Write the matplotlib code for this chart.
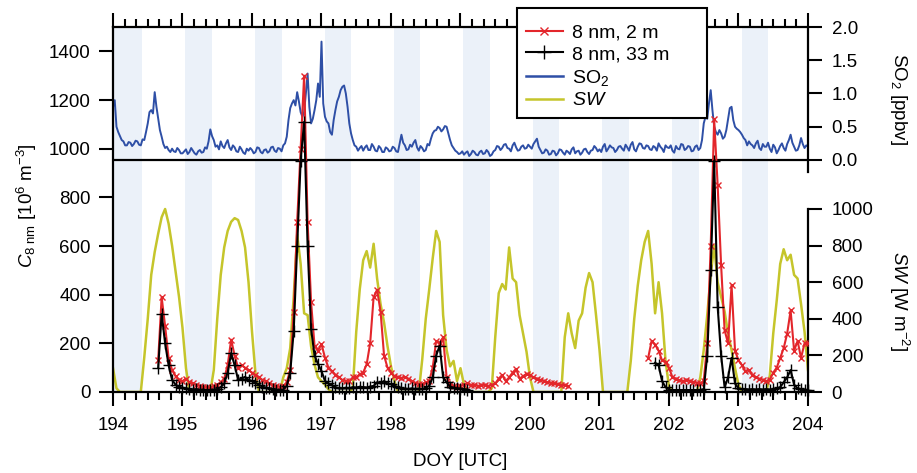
import numpy as np
import matplotlib
matplotlib.use('Agg')
import matplotlib.pyplot as plt
from matplotlib.lines import Line2D
from matplotlib.patches import Rectangle
from matplotlib.ticker import MultipleLocator, FormatStrFormatter

plt.rcParams['font.family'] = 'Liberation Sans'
plt.rcParams['mathtext.fontset'] = 'custom'
plt.rcParams['mathtext.rm'] = 'Liberation Sans'
plt.rcParams['mathtext.it'] = 'Liberation Sans:italic'
plt.rcParams['mathtext.bf'] = 'Liberation Sans:bold'

nan = np.nan

# time axes, day of year (UTC)
doy = np.round(np.arange(194, 204.001, 0.05), 2)        # SW and particle data
doy_so2 = np.round(np.arange(194, 204.0001, 0.025), 3)  # SO2

# night time (shaded) intervals
night_start = [194.0, 195.04, 196.04, 197.05, 198.04, 199.04, 200.04, 201.04, 202.04, 203.05]
night_end = [194.42, 195.42, 196.43, 197.42, 198.42, 199.42, 200.42, 201.42, 202.43, 203.43]

# SO2 [ppbv], one row per day
so2 = [
    0.80, 0.90, 0.50, 0.42, 0.36, 0.30, 0.28, 0.22, 0.22, 0.27, 0.26, 0.21, 0.24, 0.29, 0.28, 0.23, 0.22, 0.31, 0.30, 0.42,
    0.55, 0.72, 0.75, 0.70, 1.02, 0.80, 0.62, 0.45, 0.35, 0.24, 0.18, 0.20, 0.15, 0.12, 0.17, 0.13, 0.12, 0.18, 0.15, 0.10,
    0.10, 0.13, 0.16, 0.09, 0.12, 0.18, 0.14, 0.10, 0.08, 0.13, 0.15, 0.11, 0.12, 0.19, 0.17, 0.28, 0.46, 0.36, 0.30, 0.20,
    0.22, 0.16, 0.28, 0.21, 0.18, 0.25, 0.30, 0.19, 0.15, 0.22, 0.19, 0.13, 0.12, 0.20, 0.16, 0.11, 0.09, 0.17, 0.14, 0.18,
    0.15, 0.10, 0.12, 0.19, 0.18, 0.12, 0.10, 0.15, 0.16, 0.11, 0.13, 0.19, 0.20, 0.14, 0.12, 0.18, 0.17, 0.13, 0.22, 0.25,
    0.35, 0.60, 0.78, 0.85, 0.90, 0.82, 1.02, 0.88, 0.72, 0.65, 0.72, 1.00, 1.30, 0.80, 0.55, 0.62, 0.75, 0.90, 1.15, 0.95,
    1.78, 0.85, 0.65, 0.58, 0.55, 0.42, 0.38, 0.60, 0.75, 0.88, 0.95, 1.05, 1.10, 1.12, 1.00, 0.80, 0.55, 0.40, 0.30, 0.22,
    0.20, 0.14, 0.18, 0.21, 0.14, 0.19, 0.22, 0.15, 0.15, 0.24, 0.20, 0.14, 0.13, 0.21, 0.18, 0.12, 0.12, 0.19, 0.17, 0.13,
    0.14, 0.20, 0.18, 0.13, 0.12, 0.25, 0.38, 0.26, 0.22, 0.15, 0.16, 0.23, 0.20, 0.26, 0.30, 0.19, 0.14, 0.21, 0.18, 0.13,
    0.15, 0.24, 0.22, 0.32, 0.40, 0.44, 0.45, 0.50, 0.48, 0.43, 0.46, 0.51, 0.50, 0.40, 0.30, 0.22, 0.18, 0.14, 0.12, 0.09,
    0.10, 0.13, 0.08, 0.11, 0.13, 0.06, 0.09, 0.14, 0.12, 0.08, 0.07, 0.12, 0.14, 0.09, 0.10, 0.15, 0.12, 0.06, 0.08, 0.13,
    0.15, 0.21, 0.20, 0.15, 0.18, 0.23, 0.24, 0.18, 0.17, 0.13, 0.22, 0.26, 0.19, 0.14, 0.15, 0.20, 0.22, 0.17, 0.18, 0.23,
    0.20, 0.17, 0.24, 0.28, 0.32, 0.20, 0.15, 0.10, 0.11, 0.16, 0.14, 0.08, 0.09, 0.14, 0.13, 0.07, 0.10, 0.16, 0.15, 0.11,
    0.08, 0.14, 0.12, 0.09, 0.16, 0.19, 0.10, 0.13, 0.14, 0.08, 0.11, 0.16, 0.17, 0.12, 0.09, 0.14, 0.15, 0.21, 0.18, 0.13,
    0.16, 0.12, 0.20, 0.24, 0.13, 0.17, 0.22, 0.19, 0.18, 0.12, 0.15, 0.20, 0.21, 0.17, 0.14, 0.23, 0.19, 0.14, 0.23, 0.27,
    0.16, 0.13, 0.20, 0.25, 0.24, 0.18, 0.17, 0.22, 0.21, 0.16, 0.15, 0.21, 0.19, 0.14, 0.25, 0.20, 0.17, 0.12, 0.22, 0.19,
    0.18, 0.22, 0.14, 0.11, 0.21, 0.17, 0.16, 0.24, 0.23, 0.15, 0.17, 0.21, 0.20, 0.13, 0.14, 0.20, 0.22, 0.15, 0.18, 0.30,
    0.55, 0.65, 0.62, 0.85, 1.05, 0.75, 0.50, 0.42, 0.38, 0.45, 0.40, 0.32, 0.35, 0.45, 0.62, 0.78, 0.80, 0.60, 0.50, 0.47,
    0.45, 0.42, 0.38, 0.33, 0.30, 0.22, 0.28, 0.24, 0.22, 0.18, 0.25, 0.29, 0.18, 0.15, 0.24, 0.20, 0.20, 0.26, 0.17, 0.12,
    0.23, 0.19, 0.10, 0.15, 0.21, 0.25, 0.18, 0.14, 0.24, 0.30, 0.38, 0.26, 0.20, 0.14, 0.15, 0.22, 0.33, 0.24, 0.18, 0.22,
    0.20,
]

# shortwave radiation SW [W m-2]
sw = [
    130, 20, 0, 0, 0, 0, 0, 0, 0, 190, 400, 640, 765, 865, 955, 1000, 920, 800, 660, 520,
    350, 130, 0, 0, 0, 0, 0, 0, 0, 120, 400, 640, 790, 880, 930, 950, 940, 880, 790, 600,
    330, 100, 0, 0, 0, 0, 0, 0, 0, 80, 130, 240, 520, 860, 700, 430, 420, 250, 150, 80,
    60, 40, 15, 0, 0, 0, 0, 0, 0, 20, 330, 560, 720, 770, 680, 810, 620, 480, 380, 250,
    140, 60, 0, 0, 0, 0, 0, 0, 0, 180, 400, 560, 730, 880, 820, 420, 230, 140, 170, 60,
    130, 40, 0, 0, 0, 0, 0, 0, 0, 20, 300, 540, 590, 560, 790, 620, 600, 420, 320, 220,
    80, 0, 0, 0, 0, 0, 0, 0, 0, 0, 300, 430, 320, 240, 390, 430, 570, 650, 600, 420,
    230, 0, 0, 0, 0, 0, 0, 0, 0, 170, 400, 580, 720, 820, 880, 700, 430, 600, 430, 170,
    30, 0, 0, 0, 0, 0, 0, 0, 0, 80, 230, 420, 640, 800, 600, 520, 440, 320, 230, 130,
    40, 0, 0, 0, 0, 0, 0, 0, 0, 90, 320, 500, 700, 780, 720, 750, 640, 620, 480, 330,
    120,
]

# C 8 nm at 2 m [10^6 m-3]
c_2m = [
    nan, nan, nan, nan, nan, nan, nan, nan, nan, nan, nan, nan, nan, 130, 390, 270, 140, 90, 65, 50,
    45, 55, 40, 35, 30, 25, 22, 20, 18, 25, 30, 40, 55, 110, 215, 150, 100, 110, 100, 90,
    80, 70, 60, 50, 45, 35, 30, 25, 20, 25, 40, 90, 330, 700, 1000, 1300, 700, 370, 190, 170,
    197, 141, 100, 86, 70, 60, 50, 45, 45, 60, 60, 73, 80, 114, 200, 390, 420, 330, 150, 100,
    80, 65, 60, 58, 62, 55, 45, 38, 33, 33, 40, 45, 100, 210, 200, 225, 60, 33, 25, 19,
    25, 30, 35, 28, 30, 25, 28, 30, 25, 30, 35, 55, 70, 45, 60, 80, 95, 55, 65, 75,
    70, 60, 55, 50, 45, 40, 38, 35, 32, 30, 28, 25, nan, nan, nan, nan, nan, nan, nan, nan,
    nan, nan, nan, nan, nan, nan, nan, nan, nan, nan, nan, nan, nan, nan, 140, 210, 195, 170, 130, 125,
    100, 60, 55, 48, 45, 50, 45, 42, 38, 35, 45, 200, 600, 1120, 850, 520, 254, 200, 440, 170,
    130, 110, 85, 90, 70, 60, 55, 50, 45, 50, 80, 100, 140, 180, 240, 335, 170, 210, 140, 200,
    200,
]

# C 8 nm at 33 m [10^6 m-3]
c_33m = [
    nan, nan, nan, nan, nan, nan, nan, nan, nan, nan, nan, nan, nan, 100, 320, 200, 110, 50, 30, 22,
    18, 15, 12, 10, 12, 9, 10, 8, 9, 10, 12, 20, 35, 80, 160, 110, 50, 55, 62, 50,
    45, 38, 30, 22, 18, 15, 12, 10, 9, 10, 25, 80, 250, 600, 950, 1110, 600, 260, 150, 115,
    86, 45, 35, 28, 20, 15, 15, 18, 15, 20, 18, 22, 20, 18, 22, 25, 40, 35, 45, 35,
    32, 25, 20, 15, 14, 12, 15, 12, 14, 12, 18, 25, 60, 150, 190, 60, 40, 22, 18, 15,
    14, 12, 10, nan, nan, nan, nan, nan, nan, nan, nan, nan, nan, nan, nan, nan, nan, nan, nan, nan,
    nan, nan, nan, nan, nan, nan, nan, nan, nan, nan, nan, nan, nan, nan, nan, nan, nan, nan, nan, nan,
    nan, nan, nan, nan, nan, nan, nan, nan, nan, nan, nan, nan, nan, nan, nan, nan, 120, 110, 45, 20,
    10, 8, 8, 8, 8, 8, 8, 8, 8, 8, 12, 150, 500, 950, 350, 150, 20, 60, 140, 35,
    15, 12, 12, 10, 12, 10, 12, 10, 12, 10, 12, 15, 20, 40, 60, 90, 30, 15, 12, 10,
    8,
]

red = '#e3262b'
blue = '#2e4fa6'
olive = '#c5c52b'
shade = '#ebf1f9'
fs = 13.5

fig = plt.figure(figsize=(9.17, 4.73), dpi=100)
ax = fig.add_axes([113 / 917, 1 - 392 / 473, 695 / 917, 365 / 473])
ax3 = ax.twinx()   # SW, lower right
ax2 = ax.twinx()   # SO2, upper right
ax3.set_zorder(1)
ax2.set_zorder(2)
ax.set_zorder(3)
ax.patch.set_visible(False)

for s, e in zip(night_start, night_end):
    ax3.axvspan(s, e, color=shade, lw=0, zorder=0)

ax3.plot(doy, sw, color=olive, lw=1.8)
ax2.plot(doy_so2, so2, color=blue, lw=1.4)
ax2.axhline(0, color='k', lw=1.6)
ax.plot(doy, c_2m, color=red, lw=1.5, marker='x', ms=5, mew=1.0)
ax.plot(doy, c_33m, color='k', lw=1.5, marker='+', ms=9, mew=1.0, clip_on=False)

ax.set_xlim(194, 204)
ax.set_ylim(0, 1500)
ax2.set_ylim(-3.489, 2.0)
ax3.set_ylim(0, 1994.5)

ax.spines['right'].set_visible(False)
for a in (ax2, ax3):
    for s in ('left', 'top', 'bottom'):
        a.spines[s].set_visible(False)
ax2.spines['right'].set_bounds(-0.18, 2.0)
ax3.spines['right'].set_bounds(0, 1000)
for a in (ax, ax2, ax3):
    for sp in a.spines.values():
        sp.set_linewidth(1.6)

ax.xaxis.set_major_locator(MultipleLocator(1))
ax.xaxis.set_minor_locator(MultipleLocator(1 / 6))
ax.tick_params(axis='x', which='both', top=True, direction='out', width=1.5, labelsize=fs, pad=8)
ax.tick_params(axis='x', which='major', length=10)
ax.tick_params(axis='x', which='minor', length=5.5)
ax.set_yticks(range(0, 1401, 200))
ax.tick_params(axis='y', direction='out', length=10, width=1.5, labelsize=fs, pad=6)
ax2.set_yticks([0, 0.5, 1.0, 1.5, 2.0])
ax2.yaxis.set_major_formatter(FormatStrFormatter('%.1f'))
ax3.set_yticks(range(0, 1001, 200))
for a in (ax2, ax3):
    a.tick_params(axis='y', direction='out', length=10, width=1.5, labelsize=fs, pad=7)

fig.text(27 / 917, 1 - 206 / 473, r'$C_{\rm 8\ nm}$ [10$^{6}$ m$^{-3}$]', rotation=90,
         ha='center', va='center', fontsize=fs)
fig.text(899 / 917, 1 - 99 / 473, 'SO$_2$ [ppbv]', rotation=270,
         ha='center', va='center', fontsize=fs)
fig.text(899 / 917, 1 - 301 / 473, r'$SW$ [W m$^{-2}$]', rotation=270,
         ha='center', va='center', fontsize=fs)
fig.text(460.5 / 917, 1 - 461 / 473, 'DOY [UTC]', ha='center', va='center', fontsize=fs)

# legend box drawn separately (wider than the entries, as in the original)
fig.patches.append(Rectangle((517 / 917, 1 - 118 / 473), 190 / 917, 110 / 473,
                             transform=fig.transFigure, facecolor='white',
                             edgecolor='k', lw=1.5, zorder=4.5))
handles = [
    Line2D([], [], color=red, lw=1.5, marker='x', ms=6, mew=1.0),
    Line2D([], [], color='k', lw=1.5, marker='+', ms=10, mew=1.0),
    Line2D([], [], color=blue, lw=1.8),
    Line2D([], [], color=olive, lw=1.8),
]
labels = ['8 nm, 2 m', '8 nm, 33 m', 'SO$_2$', '$SW$']
leg = fig.legend(handles, labels, loc='upper left', bbox_to_anchor=(519 / 917, 1 - 17 / 473),
                 bbox_transform=fig.transFigure, borderaxespad=0, frameon=False,
                 fontsize=14, handlelength=1.9, handletextpad=0.5, labelspacing=0.22,
                 borderpad=0.35, numpoints=1)
leg.set_zorder(5)

fig.savefig('out.png', dpi=100)
